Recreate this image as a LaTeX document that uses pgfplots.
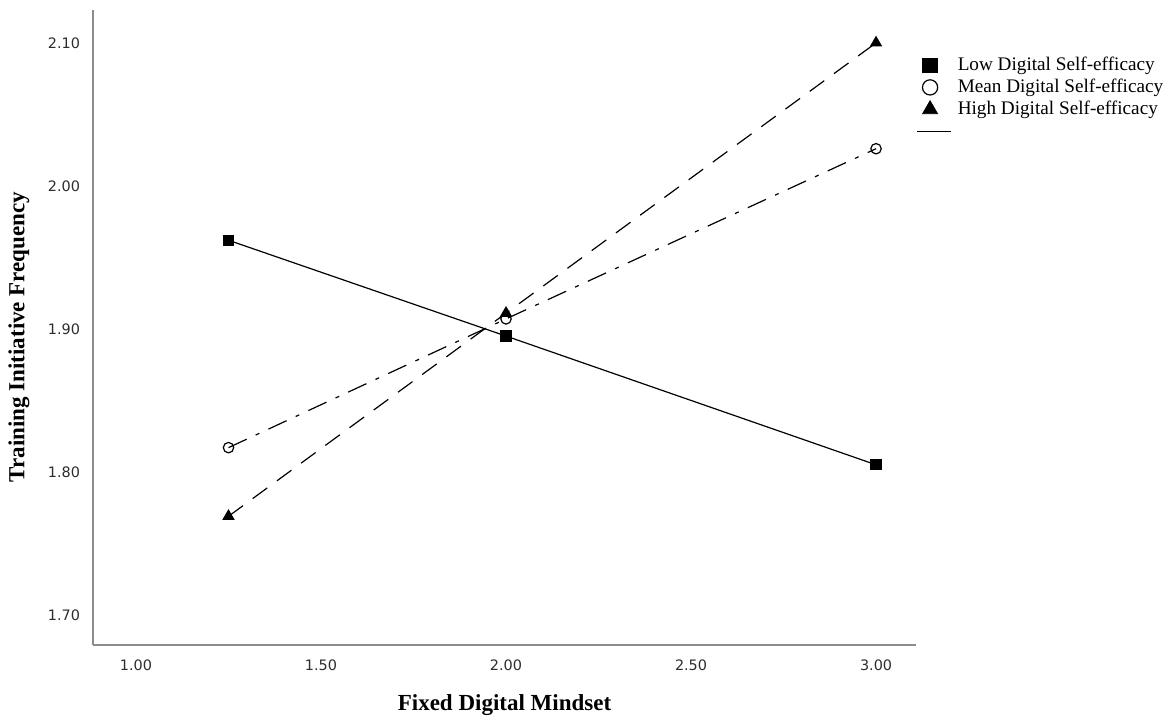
\documentclass[border=0pt]{standalone}
\usepackage{pgfplots}
\pgfplotsset{compat=1.18}
\usepackage{fontspec}
\setmainfont{Liberation Serif}
\newfontfamily\tickfont{DejaVu Sans}
\definecolor{axgray}{RGB}{140,140,140}
\definecolor{ticktext}{RGB}{45,45,45}
\begin{document}
\begin{tikzpicture}
\path[use as bounding box] (0pt,0pt) rectangle (585.5pt,358.5pt);
\begin{axis}[
  at={(46.5pt,36pt)}, anchor=south west,
  scale only axis, width=411.5pt, height=317.5pt,
  xmin=0.8838, xmax=3.108, ymin=1.679, ymax=2.123,
  axis x line*=bottom, axis y line*=left,
  axis line style={axgray, line width=0.6pt, -},
  xtick={1,1.5,2,2.5,3}, ytick={1.7,1.8,1.9,2.0,2.1},
  major tick length=0pt,
  xticklabel style={font=\tickfont\fontsize{7.2}{8}\selectfont, text=ticktext, yshift=-4pt},
  yticklabel style={font=\tickfont\fontsize{7.2}{8}\selectfont, text=ticktext, xshift=-3pt},
  /pgf/number format/assume math mode=true,
  /pgf/number format/.cd, fixed, fixed zerofill, precision=2, /pgfplots/.cd,
  xlabel={\bfseries Fixed Digital Mindset},
  ylabel={\bfseries Training Initiative Frequency},
  xlabel style={font=\fontsize{11.5}{13}\selectfont, at={(axis description cs:0.5,0)}, anchor=center, yshift=-30pt},
  ylabel style={font=\fontsize{11.5}{13}\selectfont, at={(axis description cs:0,0.485)}, anchor=center, yshift=37pt},
  legend style={at={(1,1)}, anchor=north west, xshift=0pt, yshift=-23pt, draw=none, fill=none,
    font=\fontsize{9.6}{11}\selectfont, row sep=2pt, inner sep=0pt, cells={anchor=west},
    nodes={text height=7pt, text depth=2pt, inner sep=0pt},
    /tikz/every odd column/.append style={column sep=3pt}},
  legend cell align=left,
]
\addplot[black, line width=0.6pt, mark=square*, mark size=2.5pt, forget plot] coordinates {(1.25,1.962) (2.00,1.895) (3.00,1.805)};
\addplot[black, line width=0.6pt, dash pattern=on 10pt off 5pt on 2pt off 5pt, mark=o, mark size=2.6pt, mark options={solid, fill=white}, forget plot] coordinates {(1.25,1.817) (2.00,1.907) (3.00,2.026)};
\addplot[black, line width=0.6pt, dash pattern=on 9pt off 6pt, mark=triangle*, mark size=3pt, mark options={solid}, forget plot] coordinates {(1.25,1.769) (2.00,1.911) (3.00,2.100)};
\addlegendimage{only marks, mark=square*, mark size=3.7pt, black, mark options={xshift=-2pt}}
\addlegendentry{Low Digital Self-efficacy}
\addlegendimage{only marks, mark=o, mark size=3.8pt, black, line width=0.6pt, mark options={xshift=-2pt}}
\addlegendentry{Mean Digital Self-efficacy}
\addlegendimage{only marks, mark=triangle*, mark size=4.3pt, black, mark options={xshift=-2pt}}
\addlegendentry{High Digital Self-efficacy}
\addlegendimage{black, line width=0.6pt}
\addlegendentry{}
\end{axis}
\end{tikzpicture}
\end{document}
